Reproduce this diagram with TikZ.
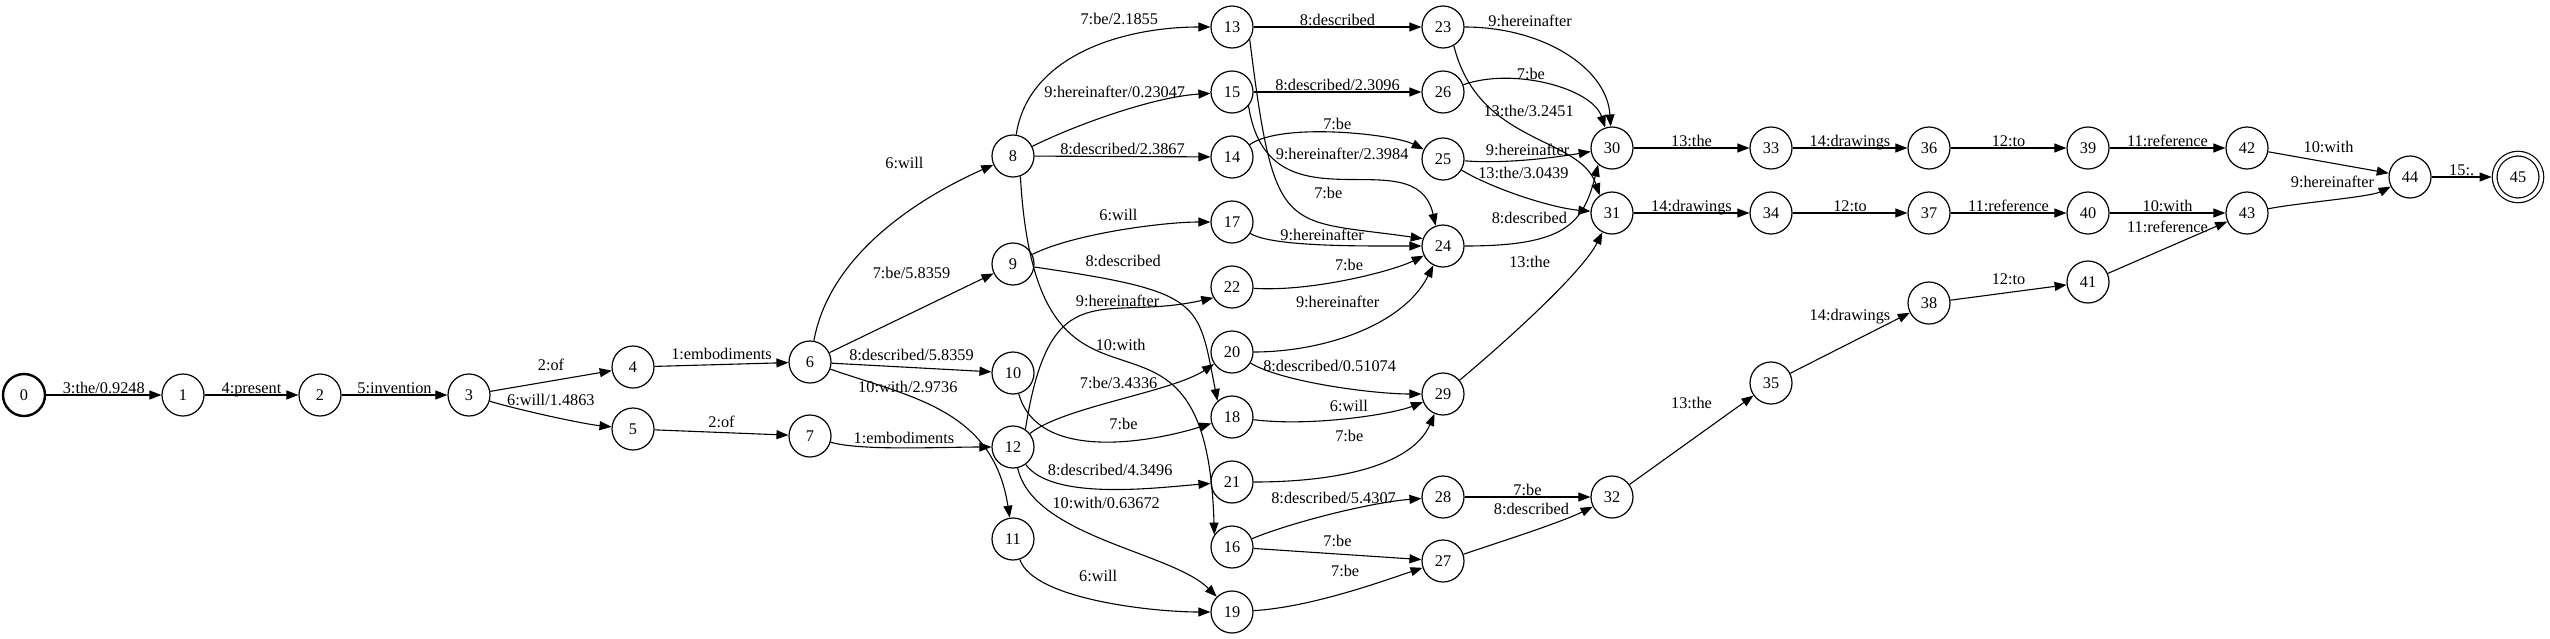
\documentclass[tikz,border=0pt]{standalone}
\usepackage{fontspec}
\setmainfont{Liberation Serif}
\usepackage{tikz}
\usetikzlibrary{arrows.meta,positioning}

\begin{document}
\begin{tikzpicture}[
  x=1pt, y=-1pt,
  font=\fontsize{16.3}{19}\selectfont,
  on grid,
  st/.style={draw, circle, minimum size=42pt, inner sep=0pt, line width=1.2pt},
  init/.style={line width=2.4pt},
  final/.style={double, double distance=3.5pt, minimum size=46.7pt, outer sep=3pt},
  arrow/.style={-{Triangle[length=12pt, width=9pt]}, line width=1.1pt},
  lbl/.style={inner sep=1pt, text depth=0pt}
]
  \useasboundingbox (0,0) rectangle (2550,638);

  % Start of the lattice
  \node[st, init] (n0) at (24,395) {0};
  \node[st, right=159pt of n0] (n1) {1};
  \node[st, right=137pt of n1] (n2) {2};
  \node[st, right=149pt of n2] (n3) {3};
  \node[st, above right=28pt and 164pt of n3] (n4) {4};
  \node[st, below right=34pt and 164pt of n3] (n5) {5};
  \node[st, above right=5pt and 177pt of n4] (n6) {6};
  \node[st, below right=7pt and 177pt of n5] (n7) {7};

  % Third column
  \node[st, above right=206pt and 203pt of n6] (n8) {8};
  \node[st, above right=98pt and 203pt of n6] (n9) {9};
  \node[st, below right=11pt and 203pt of n6] (n10) {10};
  \node[st, below right=11pt and 203pt of n7] (n12) {12};
  \node[st, below=92pt of n12] (n11) {11};

  % Fourth column
  \node[st, above right=129pt and 219pt of n8] (n13) {13};
  \node[st, below=65pt of n13] (n15) {15};
  \node[st, below=65pt of n15] (n14) {14};
  \node[st, below=65pt of n14] (n17) {17};
  \node[st, below=65pt of n17] (n22) {22};
  \node[st, below=65pt of n22] (n20) {20};
  \node[st, below=65pt of n20] (n18) {18};
  \node[st, below=65pt of n18] (n21) {21};
  \node[st, below=65pt of n21] (n16) {16};
  \node[st, below=65pt of n16] (n19) {19};

  % Fifth column
  \node[st, right=211pt of n13] (n23) {23};
  \node[st, right=211pt of n15] (n26) {26};
  \node[st, below right=2pt and 211pt of n14] (n25) {25};
  \node[st, below right=24pt and 211pt of n17] (n24) {24};
  \node[st, below right=42pt and 211pt of n20] (n29) {29};
  \node[st, below right=15pt and 211pt of n21] (n28) {28};
  \node[st, below right=14pt and 211pt of n16] (n27) {27};

  % Tail
  \node[st, above right=11pt and 169pt of n25] (n30) {30};
  \node[st, below=65pt of n30] (n31) {31};
  \node[st, right=169pt of n28] (n32) {32};
  \node[st, right=159pt of n30] (n33) {33};
  \node[st, right=158pt of n33] (n36) {36};
  \node[st, right=159pt of n36] (n39) {39};
  \node[st, right=159pt of n39] (n42) {42};
  \node[st, right=159pt of n31] (n34) {34};
  \node[st, right=158pt of n34] (n37) {37};
  \node[st, right=159pt of n37] (n40) {40};
  \node[st, right=159pt of n40] (n43) {43};
  \node[st, above right=114pt and 159pt of n32] (n35) {35};
  \node[st, above right=80pt and 158pt of n35] (n38) {38};
  \node[st, above right=21pt and 159pt of n38] (n41) {41};
  \node[st, below right=29pt and 163pt of n42] (n44) {44};
  \node[st, final, right=108pt of n44] (n45) {45};

  % Arcs
  \draw[arrow] (n0) -- node[lbl, above] {3:the/0.9248} (n1);
  \draw[arrow] (n1) -- node[lbl, above] {4:present} (n2);
  \draw[arrow] (n2) -- node[lbl, above] {5:invention} (n3);
  \draw[arrow] (n3) -- node[lbl, above=9pt] {2:of} (n4);
  \draw[arrow] (n3) .. controls +(50,15) and +(-50,-5) .. (n5) node[lbl, midway, above=9pt] {6:will/1.4863};
  \draw[arrow] (n4) -- node[lbl, above=3pt] {1:embodiments} (n6);
  \draw[arrow] (n5) -- node[lbl, above=3pt] {2:of} (n7);
  \draw[arrow] (n7) .. controls +(50,15) and +(-70,0) .. (n12) node[lbl, midway, above=3pt] {1:embodiments};

  \draw[arrow] (n6) .. controls +(20,-110) and +(-90,40) .. (n8) node[lbl, pos=0.6, above=45pt] {6:will};
  \draw[arrow] (n6) -- node[lbl, above=33pt] {7:be/5.8359} (n9);
  \draw[arrow] (n6) -- node[lbl, above=5pt] {8:described/5.8359} (n10);
  \draw[arrow] (n6) .. controls +(100,35) and +(-20,-130) .. (n11) node[lbl, pos=0.33, above=2pt] {10:with/2.9736};

  \draw[arrow] (n8) .. controls +(15,-100) and +(-110,0) .. (n13) node[lbl, pos=0.65, above=12pt] {7:be/2.1855};
  \draw[arrow] (n8) .. controls +(60,-30) and +(-80,5) .. (n15) node[lbl, midway, above=15pt] {9:hereinafter/0.23047};
  \draw[arrow] (n8) -- node[lbl, above] {8:described/2.3867} (n14);
  \draw[arrow] (n8.-70) .. controls +(17,300) and +(-8,-285) .. (n16.145) node[lbl, midway, above=9pt] {10:with};
  \draw[arrow] (n9) .. controls +(60,-30) and +(-70,0) .. (n17) node[lbl, midway, above=8pt] {6:will};
  \draw[arrow] (n9.-8) .. controls +(170,25) and +(-20,-100) .. (n18.132) node[lbl, pos=0.22, above=14pt] {8:described};
  \draw[arrow] (n10) .. controls +(25,90) and +(-80,25) .. (n18) node[lbl, pos=0.6, above=10pt] {7:be};
  \draw[arrow] (n11) .. controls +(20,60) and +(-80,0) .. (n19) node[lbl, midway, above=18pt] {6:will};
  \draw[arrow] (n12.55) .. controls +(25,-160) and +(-110,25) .. (n22.210) node[lbl, pos=0.65, above] {9:hereinafter};
  \draw[arrow] (n12) .. controls +(50,-40) and +(-60,40) .. (n20) node[lbl, midway, above=9pt] {7:be/3.4336};
  \draw[arrow] (n12) .. controls +(40,55) and +(-70,5) .. (n21) node[lbl, midway, above=12pt] {8:described/4.3496};
  \draw[arrow] (n12) .. controls +(20,90) and +(-60,-60) .. (n19) node[lbl, midway, above=31pt] {10:with/0.63672};

  \draw[arrow] (n13) -- node[lbl, above] {8:described} (n23);
  \draw[arrow] (n13.-35) .. controls +(25,200) and +(-140,-20) .. (n24.160) node[lbl, pos=0.7, above=25pt] {7:be};
  \draw[arrow] (n15) -- node[lbl, above] {8:described/2.3096} (n26);
  \draw[arrow] (n15.-40) .. controls +(20,130) and +(-20,-90) .. (n24.110) node[lbl, midway, above=20pt] {9:hereinafter/2.3984};
  \draw[arrow] (n14) .. controls +(50,-35) and +(-50,-25) .. (n25) node[lbl, midway, above=2pt] {7:be};
  \draw[arrow] (n17) .. controls +(40,25) and +(-80,0) .. (n24) node[lbl, midway, above=3pt] {9:hereinafter};
  \draw[arrow] (n22) .. controls +(80,5) and +(-50,25) .. (n24) node[lbl, midway, above=7pt] {7:be};
  \draw[arrow] (n20) .. controls +(90,0) and +(-40,80) .. (n24) node[lbl, pos=0.4, above=30pt] {9:hereinafter};
  \draw[arrow] (n20) .. controls +(50,30) and +(-70,0) .. (n29) node[lbl, midway, above=13pt] {8:described/0.51074};
  \draw[arrow] (n18) .. controls +(80,10) and +(-50,20) .. (n29) node[lbl, midway, above=5pt] {6:will};
  \draw[arrow] (n21) .. controls +(110,0) and +(-30,70) .. (n29) node[lbl, pos=0.4, above=29pt] {7:be};
  \draw[arrow] (n16) .. controls +(60,-25) and +(-70,5) .. (n28) node[lbl, midway, above=9pt] {8:described/5.4307};
  \draw[arrow] (n16) -- node[lbl, above=6pt] {7:be} (n27);
  \draw[arrow] (n19) .. controls +(80,-5) and +(-60,20) .. (n27) node[lbl, midway, above=15pt] {7:be};

  \draw[arrow] (n23) .. controls +(100,0) and +(-5,-80) .. (n30) node[lbl, pos=0.3, above=9pt] {9:hereinafter};
  \draw[arrow] (n23.-60) .. controls +(25,100) and +(-20,-60) .. (n31.125) node[lbl, midway, above=17pt] {13:the/3.2451};
  \draw[arrow] (n26) .. controls +(70,-25) and +(-20,-60) .. (n30) node[lbl, pos=0.4, above] {7:be};
  \draw[arrow] (n25) .. controls +(60,5) and +(-60,10) .. (n30) node[lbl, midway, above=3pt] {9:hereinafter};
  \draw[arrow] (n25) .. controls +(50,30) and +(-60,-5) .. (n31) node[lbl, midway, above=16pt] {13:the/3.0439};
  \draw[arrow] (n24.0) .. controls +(100,0) and +(-15,60) .. (n30.-130) node[lbl, pos=0.27, above=16pt] {8:described};
  \draw[arrow] (n29) .. controls +(60,-50) and +(-30,60) .. (n31) node[lbl, midway, xshift=-10pt, yshift=46pt] {13:the};
  \draw[arrow] (n28) -- node[lbl, above] {7:be} (n32);
  \draw[arrow] (n27) .. controls +(60,-20) and +(-50,25) .. (n32) node[lbl, midway, above=15pt] {8:described};

  \draw[arrow] (n30) -- node[lbl, above] {13:the} (n33);
  \draw[arrow] (n33) -- node[lbl, above] {14:drawings} (n36);
  \draw[arrow] (n36) -- node[lbl, above] {12:to} (n39);
  \draw[arrow] (n39) -- node[lbl, above] {11:reference} (n42);
  \draw[arrow] (n31) -- node[lbl, above] {14:drawings} (n34);
  \draw[arrow] (n34) -- node[lbl, above] {12:to} (n37);
  \draw[arrow] (n37) -- node[lbl, above] {11:reference} (n40);
  \draw[arrow] (n40) -- node[lbl, above] {10:with} (n43);
  \draw[arrow] (n32) -- node[lbl, above=30pt] {13:the} (n35);
  \draw[arrow] (n35) -- node[lbl, above=21pt] {14:drawings} (n38);
  \draw[arrow] (n38) -- node[lbl, above=6pt] {12:to} (n41);
  \draw[arrow] (n41) -- node[lbl, above=13pt] {11:reference} (n43);
  \draw[arrow] (n42) -- node[lbl, above=8pt] {10:with} (n44);
  \draw[arrow] (n43) .. controls +(50,-10) and +(-40,20) .. (n44) node[lbl, midway, above=10pt] {9:hereinafter};
  \draw[arrow] (n44) -- node[lbl, above] {15:.} (n45);
\end{tikzpicture}
\end{document}
